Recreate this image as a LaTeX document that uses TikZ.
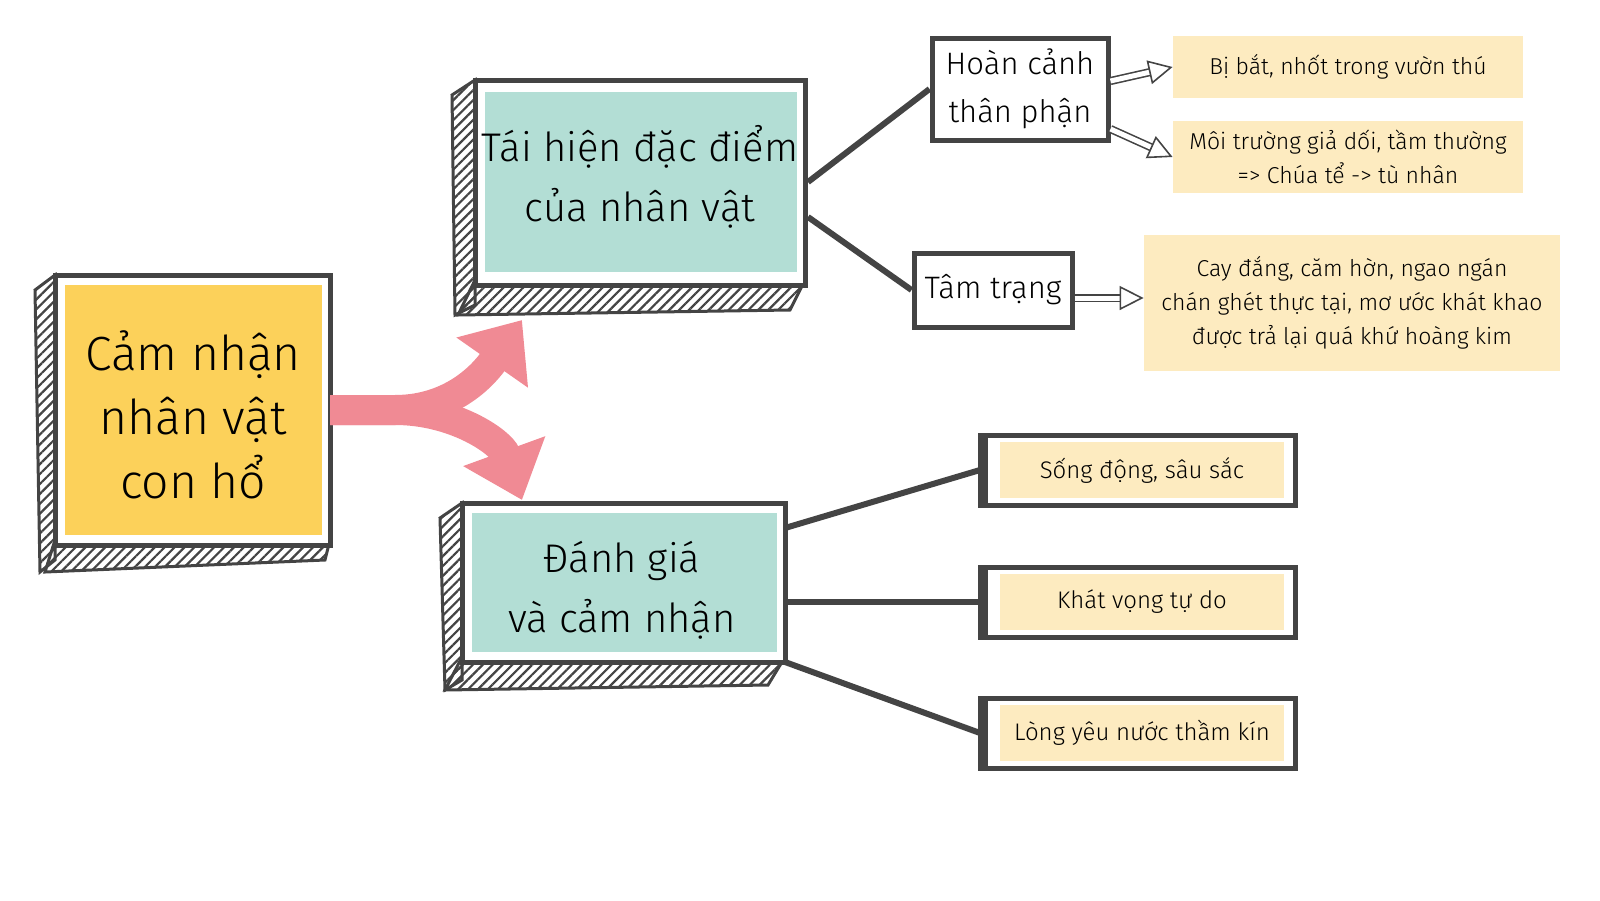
\documentclass[tikz,border=0pt]{standalone}
\usepackage{fontspec}
\setmainfont{Fira Sans Light}
\usetikzlibrary{patterns.meta,arrows.meta,positioning}
\definecolor{dk}{HTML}{444444}
\definecolor{yel}{HTML}{FCD15A}
\definecolor{teal}{HTML}{B3DED5}
\definecolor{note}{HTML}{FDEBC0}
\definecolor{pk}{HTML}{F08A94}
\tikzset{
 hatch/.style={pattern={Lines[angle=45,distance=3.5pt,line width=1.1pt]}, pattern color=dk, draw=dk, line width=1.5pt},
 frame/.style={draw=dk, line width=2.5pt, fill=white},
 conn/.style={draw=dk, line width=3pt},
 hollow/.style={draw=dk, double=white, double distance=2.5pt, line width=0.8pt, -{Triangle[open,length=12pt,width=12pt]}},
 txt/.style={align=center, text=black}
}
\begin{document}
\begin{tikzpicture}[x=0.5pt,y=-0.5pt]
\useasboundingbox (0,0) rectangle (1600,900);
% main box
\fill[hatch] (35,290) -- (55,275) -- (55,560) -- (40,572) -- cycle;
\fill[hatch] (55,540) -- (330,540) -- (325,560) -- (45,572) -- cycle;
\draw[frame] (55,275) rectangle (330,545);
\fill[yel] (65,285) rectangle (322,535);
\node[txt,font=\fontsize{24}{32}\selectfont] (main) at (193,415) {Cảm nhận\\nhân vật\\con hổ};
% box2
\fill[hatch] (452,95) -- (475,80) -- (475,305) -- (455,315) -- cycle;
\fill[hatch] (475,280) -- (805,280) -- (790,310) -- (458,315) -- cycle;
\draw[frame] (475,80) rectangle (805,285);
\fill[teal] (485,92) rectangle (797,272);
\node[txt,font=\fontsize{20}{30}\selectfont] (b2) at (640,177) {Tái hiện đặc điểm\\của nhân vật};
% box3
\fill[hatch] (440,518) -- (462,503) -- (462,680) -- (445,690) -- cycle;
\fill[hatch] (462,657) -- (785,657) -- (768,685) -- (445,690) -- cycle;
\draw[frame] (462,503) rectangle (785,662);
\fill[teal] (472,513) rectangle (777,652);
\node[txt,font=\fontsize{20}{30}\selectfont] (b3) at (622,590) {Đánh giá\\và cảm nhận};
% pink fork
\draw[pk, line width=15pt, -{Triangle[length=26pt,width=42pt]}] (330,410) -- (395,410) to[out=0,in=-125] (522,320);
\draw[pk, line width=15pt, -{Triangle[length=26pt,width=42pt]}] (330,410) -- (395,410) to[out=0,in=110] (522,500);
% small boxes
\node[frame,txt,minimum width=88pt,minimum height=51pt,font=\fontsize{15.5}{24}\selectfont,inner sep=2pt] (hc) at (1020,89) {Hoàn cảnh\\thân phận};
\node[frame,txt,minimum width=79pt,minimum height=37pt,font=\fontsize{15.5}{24}\selectfont,inner sep=2pt] (tt) at (993,290) {Tâm trạng};
% notes
\node[fill=note,txt,minimum width=175pt,minimum height=31pt,font=\fontsize{11.5}{17}\selectfont] (n1) at (1348,67) {Bị bắt, nhốt trong vườn thú};
\node[fill=note,txt,minimum width=175pt,minimum height=36pt,font=\fontsize{11.5}{17}\selectfont] (n2) at (1348,157) {Môi trường giả dối, tầm thường\\=> Chúa tể -> tù nhân};
\node[fill=note,txt,minimum width=208pt,minimum height=68pt,font=\fontsize{11.5}{17}\selectfont] (n3) at (1352,303) {Cay đắng, căm hờn, ngao ngán\\chán ghét thực tại, mơ ước khát khao\\được trả lại quá khứ hoàng kim};
% right boxes
\foreach \n/\y/\t in {r1/470/{Sống động, sâu sắc}, r2/602/{Khát vọng tự do}, r3/733/{Lòng yêu nước thầm kín}}{
 \draw[frame] (980,\y-35) rectangle (1295,\y+35);
 \draw[dk,line width=5pt] (983,\y-33) -- (983,\y+33);
 \node[fill=note,txt,minimum width=142pt,minimum height=28pt,font=\fontsize{12}{17}\selectfont] (\n) at (1142,\y) {\t};
 \coordinate (\n L) at (980,\y);
}
% connectors
\draw[conn] (808,182) -- (hc.west);
\draw[conn] (808,217) -- (tt.west);
\draw[conn] (785,528) -- (r1L);
\draw[conn] (785,602) -- (r2L);
\draw[conn] (785,662) -- (r3L);
\draw[hollow] (hc.east)++(0,-8) -- (n1.west);
\draw[hollow] (hc.east)++(0,40) -- (n2.west);
\draw[hollow] (tt.east)++(0,8) -- (n3.west |- 0,298);
\end{tikzpicture}
\end{document}
